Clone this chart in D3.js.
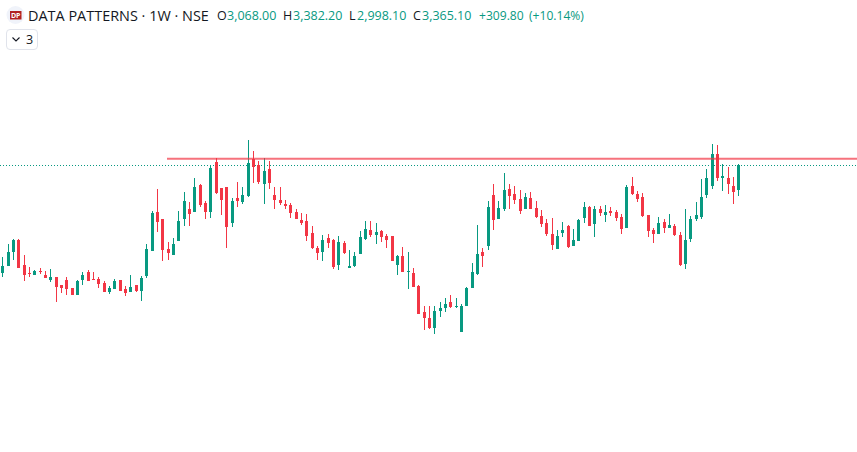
<!DOCTYPE html>
<html>
<head>
<meta charset="utf-8">
<script src="https://cdn.jsdelivr.net/npm/d3@7"></script>
<style>html,body{margin:0;padding:0;background:#fff;overflow:hidden}svg{display:block}</style>
</head>
<body>
<script>
const opens=[2101,2183,2347,2487,2195,2101,2078,2125,2078,2019,2055,1961,2019,1926,1844,2019,2113,2031,2031,1984,1879,1914,2019,1914,1879,1961,1891,2066,2359,2815,2733,2382,2312,2476,2733,2850,2815,3131,2920,2815,3400,3096,3108,2686,2979,2932,3002,3435,3365,3143,3318,3014,2955,2909,2897,2815,2721,2710,2569,2394,2347,2511,2487,2195,2452,2160,2183,2324,2499,2604,2546,2593,2534,2534,2195,2300,2113,2101,1949,1645,1575,1458,1657,1692,1762,1704,1411,1715,1926,2090,2347,2417,3014,2733,2850,3084,3026,2967,2850,2979,2862,2768,2686,2558,2382,2569,2651,2417,2476,2745,2874,2675,2850,2780,2827,2815,2757,2628,3119,3026,2991,2780,2604,2558,2698,2628,2651,2546,2207,2499,2733,2757,3014,3119,3494,3213,3213,3119,3068];
const highs=[2289,2441,2499,2499,2312,2172,2136,2160,2125,2148,2055,1961,2055,1926,2019,2113,2136,2113,2055,2008,1949,2031,2019,1949,2078,1961,2066,2441,2827,3084,2733,2464,2511,2827,3049,2932,3213,3143,2944,3365,3447,3096,3108,2979,3166,3108,3657,3529,3412,3447,3412,3108,3108,2955,2920,2850,2803,2792,2651,2417,2546,2558,2499,2534,2476,2370,2347,2593,2710,2710,2686,2604,2558,2534,2312,2406,2347,2160,1961,1715,1715,1715,1762,1809,1844,1809,1739,1938,2218,2663,2394,2944,3143,2944,3271,3143,3119,3072,3037,3049,2944,2838,2733,2745,2604,2698,2663,2616,2733,2932,2885,2885,2885,2897,2874,2838,2792,3131,3225,3061,3037,2780,2628,2757,2733,2792,2675,2581,2850,2768,2932,3201,3318,3611,3599,3377,3342,3225,3382.2];
const lows=[2055,2183,2253,2160,2008,2055,2078,2090,2043,1996,1762,1867,1844,1844,1844,1961,2008,2019,1926,1879,1856,1914,1891,1832,1879,1879,1774,2043,2359,2581,2242,2253,2312,2476,2651,2651,2815,2874,2733,2745,3026,2780,2394,2640,2874,2909,2991,3154,3143,2909,3084,2850,2897,2850,2745,2733,2663,2476,2382,2253,2242,2394,2148,2136,2324,2160,2172,2324,2487,2523,2441,2464,2394,2242,2078,2113,1914,1938,1622,1434,1446,1388,1587,1645,1692,1692,1411,1715,1926,2078,2172,2370,2604,2733,2827,2850,2909,2792,2850,2850,2745,2640,2534,2370,2382,2523,2394,2417,2476,2686,2651,2523,2768,2698,2768,2710,2558,2628,3014,2932,2757,2523,2452,2558,2569,2628,2534,2183,2148,2464,2710,2733,2979,3084,3178,3061,3026,2909,2998.1];
const closes=[2183,2347,2487,2160,2078,2090,2125,2113,2043,2055,1938,1926,1914,1844,2008,2078,2008,2019,1973,1879,1926,2008,1891,1867,1938,1891,2043,2382,2803,2698,2370,2335,2441,2710,2944,2792,3108,2897,2815,3330,3037,2955,2640,2944,2944,3014,3388,3342,3166,3295,3154,2955,2920,2885,2803,2733,2686,2534,2394,2335,2487,2452,2172,2464,2335,2183,2300,2523,2616,2546,2581,2523,2487,2242,2300,2113,2125,1938,1622,1575,1458,1657,1692,1739,1704,1715,1715,1926,2113,2324,2300,2874,2721,2862,3072,3002,2955,2827,2991,2850,2757,2675,2558,2429,2534,2604,2406,2487,2721,2874,2651,2850,2803,2815,2803,2745,2616,3108,3026,2967,2768,2593,2558,2686,2628,2663,2546,2195,2487,2733,2780,2991,3213,3494,3213,3236,3143,3049,3365.1];
const levelPrice=[3439];
const lastClose=closes[closes.length-1];
const titleText="DATA PATTERNS · 1W · NSE";
const ohlcLabels=["O","H","L","C"];
const ohlcValues=["3,068.00","3,382.20","2,998.10","3,365.10"];
const changeLabels=["+309.80","(+10.14%)"];
const logoText="DP";
const badgeText="3";

const W=857,H=452,UP="#089981",DOWN="#f23645",FONT="'Open Sans',sans-serif";
const svg=d3.select("body").append("svg").attr("width",W).attr("height",H);
svg.append("rect").attr("width",W).attr("height",H).attr("fill","#fff");

const x=d3.scaleLinear().domain([0,138]).range([2.8,738.8]);
const y=d3.scaleLinear().domain([3365.1,2195.1]).range([165,265]);
const px=i=>Math.floor(x(i));

// last price dotted line
svg.append("line").attr("x1",0).attr("x2",W).attr("y1",Math.round(y(lastClose))+.5).attr("y2",Math.round(y(lastClose))+.5)
  .attr("stroke",UP).attr("stroke-width",1).attr("stroke-dasharray","1 2");

const idx=d3.range(opens.length);
const col=i=>closes[i]>=opens[i]?UP:DOWN;
const g=svg.append("g").attr("shape-rendering","crispEdges");
g.selectAll("rect.w").data(idx).join("rect").attr("class","w")
  .attr("x",i=>px(i)).attr("width",1)
  .attr("y",i=>Math.round(y(highs[i])))
  .attr("height",i=>Math.round(y(lows[i]))-Math.round(y(highs[i])))
  .attr("fill",col);
g.selectAll("rect.b").data(idx).join("rect").attr("class","b")
  .attr("x",i=>px(i)-1).attr("width",3)
  .attr("y",i=>Math.round(y(Math.max(opens[i],closes[i]))))
  .attr("height",i=>Math.max(1,Math.round(y(Math.min(opens[i],closes[i])))-Math.round(y(Math.max(opens[i],closes[i])))))
  .attr("fill",col);

// horizontal level drawn over the candles
svg.append("line").attr("x1",167).attr("x2",W).attr("y1",y(levelPrice[0])).attr("y2",y(levelPrice[0]))
  .attr("stroke",DOWN).attr("stroke-opacity",.7).attr("stroke-width",2);

// header
const hd=svg.append("g").attr("font-family",FONT);
hd.append("circle").attr("cx",15.5).attr("cy",15).attr("r",9).attr("fill","#f0f3fa");
hd.append("rect").attr("x",10).attr("y",11).attr("width",11.5).attr("height",8.5).attr("fill","#b22222");
hd.append("text").attr("x",15.7).attr("y",18.2).attr("text-anchor","middle").attr("font-size",7).attr("font-weight",700).attr("fill","#fff").text(logoText);
hd.append("text").attr("x",28).attr("y",20.5).attr("font-size",14.45).attr("fill","#131722").text(titleText);
const lblX=[217,283,349,413], valX=[227,293,357,422], chgX=[479,529];
ohlcLabels.forEach((t,i)=>{
  hd.append("text").attr("x",lblX[i]).attr("y",20).attr("font-size",12.5).attr("fill","#131722").text(t);
  hd.append("text").attr("x",valX[i]).attr("y",20).attr("font-size",12.5).attr("fill",UP).text(ohlcValues[i]);
});
changeLabels.forEach((t,i)=>hd.append("text").attr("x",chgX[i]).attr("y",20).attr("font-size",12.1).attr("fill",UP).text(t));

// collapsed indicators button
hd.append("rect").attr("x",6.5).attr("y",29.5).attr("width",31).attr("height",20).attr("rx",3.5).attr("fill","#fff").attr("stroke","#e0e3eb");
hd.append("path").attr("d","M12.5 37.5l3.5 3.5l3.5-3.5").attr("fill","none").attr("stroke","#131722").attr("stroke-width",1.1);
hd.append("text").attr("x",26).attr("y",44).attr("font-size",12.5).attr("fill","#131722").text(badgeText);
</script>
</body>
</html>
